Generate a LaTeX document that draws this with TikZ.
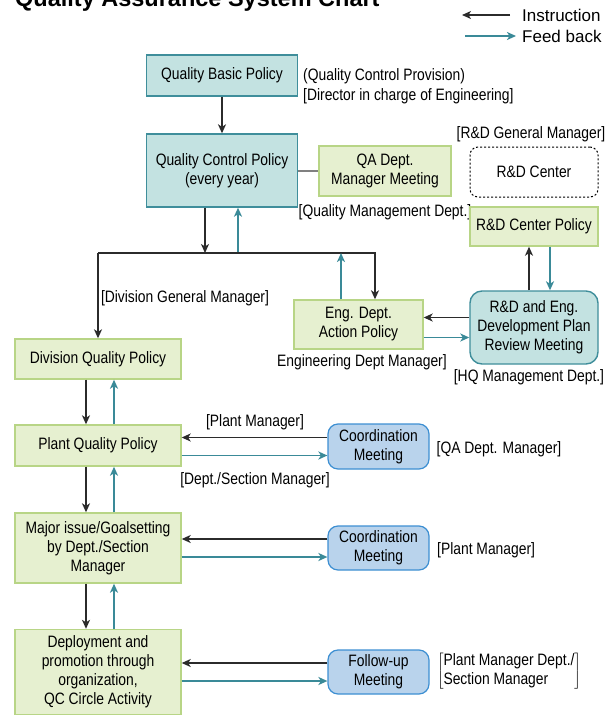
\documentclass[tikz,border=0pt]{standalone}
\usepackage{fontspec}
\setmainfont{Liberation Sans}[FakeStretch=0.84]
\newfontfamily\legendfont{Liberation Sans}
\usepackage{tikz}
\usetikzlibrary{arrows.meta,positioning}
\definecolor{tealfill}{HTML}{C3E2E1}
\definecolor{tealline}{HTML}{3F8E9B}
\definecolor{greenfill}{HTML}{E6F0D0}
\definecolor{greenline}{HTML}{B8D586}
\definecolor{bluefill}{HTML}{B9D3EC}
\definecolor{blueline}{HTML}{3D8FD2}
\definecolor{insline}{HTML}{2B2B2B}
\definecolor{fbline}{HTML}{3A8A98}
\begin{document}
\begin{tikzpicture}[
  x=1pt,y=-1pt,>={Stealth[length=9pt,width=8pt,inset=2.5pt]},
  font=\fontsize{16.5}{19}\selectfont,
  tb/.style={draw=tealline,fill=tealfill,line width=1.4pt,align=center,inner sep=2pt},
  gb/.style={draw=greenline,fill=greenfill,line width=1.4pt,align=center,inner sep=2pt},
  mt/.style={draw=blueline,fill=bluefill,line width=1.2pt,rounded corners=10pt,align=center,inner sep=2pt},
  lb/.style={inner sep=0pt,align=left},
  ins/.style={->,draw=insline,line width=1.3pt},
  fb/.style={->,draw=fbline,line width=1.9pt}
]
\useasboundingbox (0,0) rectangle (611,716);
\node[anchor=base west,inner sep=0pt,font=\legendfont\bfseries\fontsize{23.5}{26}\selectfont] (title) at (15,6) {Quality Assurance System Chart};
\coordinate (i1) at (510,15);
\coordinate (i2) at (462,15);
\coordinate (f1) at (465,36);
\coordinate (f2) at (516,36);
\node[lb,anchor=west,font=\legendfont\fontsize{17}{20}\selectfont] (lgi) at (522,15) {Instruction};
\node[lb,anchor=west,font=\legendfont\fontsize{17}{20}\selectfont] (lgf) at (522,36) {Feed back};
\draw[ins] (i1) -- (i2);
\draw[fb] (f1) -- (f2);
\node[tb,minimum width=151.5pt,minimum height=41pt] (basic) at (222,75.5) {Quality Basic Policy};
\node[lb,anchor=west] (qcp) at (303,76) {(Quality Control Provision)};
\node[lb,anchor=west] (dir) at (303,96) {[Director in charge of Engineering]};
\node[tb,minimum width=151.5pt,minimum height=73pt] (ctrl) at (222,170.5) {Quality Control Policy\\(every year)};
\node[gb,minimum width=132pt,minimum height=50pt] (qa) at (385,171) {QA Dept.\\Manager Meeting};
\node[lb] (qmd) at (385,212) {[Quality Management Dept.]};
\node[lb] (rdgm) at (531,134) {[R\&D General Manager]};
\node[draw,dash pattern=on 2pt off 2pt,line width=1pt,rounded corners=8pt,minimum width=128pt,minimum height=50pt] (rdc) at (534,172) {R\&D Center};
\node[gb,minimum width=128pt,minimum height=39pt] (rdp) at (534,226.5) {R\&D Center Policy};
\node[gb,minimum width=129pt,minimum height=49pt] (eng) at (358.5,324.5) {Eng. Dept.\\Action Policy};
\node[lb] (edm) at (362,362) {Engineering Dept Manager]};
\node[tb,rounded corners=12pt,minimum width=128pt,minimum height=73pt] (rev) at (534,327.5) {R\&D and Eng.\\Development Plan\\Review Meeting};
\node[lb] (hq) at (529,377) {[HQ Management Dept.]};
\node[lb] (dgm) at (185,298) {[Division General Manager]};
\node[gb,minimum width=166pt,minimum height=40pt] (div) at (98,359) {Division Quality Policy};
\node[gb,minimum width=166pt,minimum height=41pt] (plant) at (98,445.5) {Plant Quality Policy};
\node[gb,minimum width=166pt,minimum height=70pt] (major) at (98,548) {Major issue/Goalsetting\\by Dept./Section\\Manager};
\node[gb,minimum width=166pt,minimum height=85pt] (dep) at (98,672) {Deployment and\\promotion through\\organization,\\QC Circle Activity};
\node[mt,minimum width=101pt,minimum height=45pt] (cm1) at (378.5,446.5) {Coordination\\Meeting};
\node[mt,minimum width=101pt,minimum height=44pt] (cm2) at (378.5,548) {Coordination\\Meeting};
\node[mt,minimum width=101pt,minimum height=44pt] (fu) at (378.5,672) {Follow-up\\Meeting};
\node[lb] (pm1) at (255,422) {[Plant Manager]};
\node[lb] (dsm) at (255,480) {[Dept./Section Manager]};
\node[lb] (qam) at (499,449) {[QA Dept. Manager]};
\node[lb,anchor=west] (pm2) at (437,550) {[Plant Manager]};
\node[lb] (pmd) at (509,671) {$\left[\mbox{\begin{tabular}{@{}l@{}}Plant Manager Dept./\\Section Manager\end{tabular}}\right]$};
\coordinate (jl) at (98,253);
\coordinate (jr) at (375,253);
\draw[ins] (basic) -- (ctrl);
\draw[gray,line width=1.3pt] (qa.west -| ctrl.east) -- (qa.west);
\draw[ins] ([xshift=-17pt]ctrl.south) -- ([xshift=-17pt]ctrl.south |- jl);
\draw[fb] ([xshift=16pt]ctrl.south |- jl) -- ([xshift=16pt]ctrl.south);
\draw[ins] (jl) -- (div);
\draw[ins] (jl) -- (jr) -- (eng.north -| jr);
\draw[fb] ([xshift=-17.5pt]eng.north) -- ([xshift=-17.5pt]eng.north |- jl);
\draw[ins] ([xshift=-5pt]rev.north) -- ([xshift=-5pt]rdp.south);
\draw[fb] ([xshift=16pt]rdp.south) -- ([xshift=16pt]rev.north);
\draw[ins] ([yshift=10pt]rev.west) -- ([yshift=10pt]rev.west -| eng.east);
\draw[fb] ([yshift=-10pt]rev.west -| eng.east) -- ([yshift=-10pt]rev.west);
\draw[ins] ([xshift=-12pt]div.south) -- ([xshift=-12pt]plant.north);
\draw[fb] ([xshift=16pt]plant.north) -- ([xshift=16pt]div.south);
\draw[ins] ([xshift=-12pt]plant.south) -- ([xshift=-12pt]major.north);
\draw[fb] ([xshift=16pt]major.north) -- ([xshift=16pt]plant.south);
\draw[ins] ([xshift=-12pt]major.south) -- ([xshift=-12pt]dep.north);
\draw[fb] ([xshift=16pt]dep.north) -- ([xshift=16pt]major.south);
\draw[ins] ([yshift=9pt]cm1.west) -- ([yshift=9pt]cm1.west -| plant.east);
\draw[fb] ([yshift=-9pt]cm1.west -| plant.east) -- ([yshift=-9pt]cm1.west);
\draw[ins] ([yshift=9pt]cm2.west) -- ([yshift=9pt]cm2.west -| major.east);
\draw[fb] ([yshift=-9pt]cm2.west -| major.east) -- ([yshift=-9pt]cm2.west);
\draw[ins] ([yshift=9pt]fu.west) -- ([yshift=9pt]fu.west -| dep.east);
\draw[fb] ([yshift=-9pt]fu.west -| dep.east) -- ([yshift=-9pt]fu.west);
\end{tikzpicture}
\end{document}
